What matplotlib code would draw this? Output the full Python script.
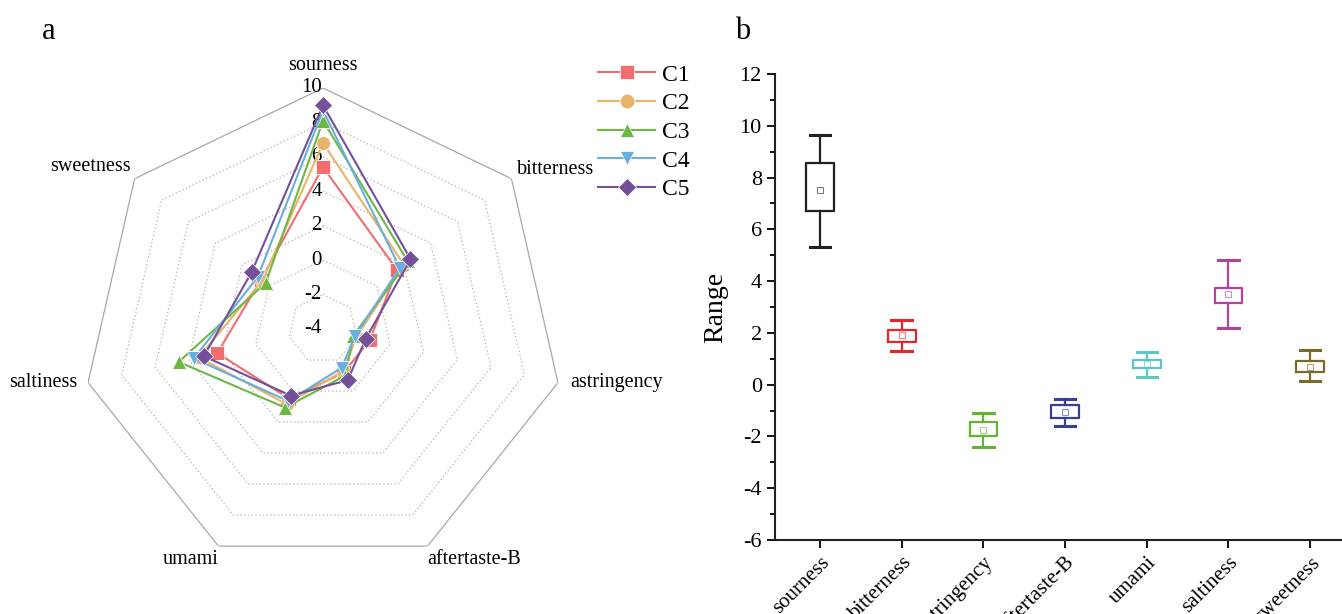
import numpy as np
import matplotlib
matplotlib.use("Agg")
import matplotlib.pyplot as plt

plt.rcParams['font.family'] = ['Liberation Serif', 'DejaVu Serif']
plt.rcParams['axes.unicode_minus'] = False

# taste attributes, clockwise from the top of the radar
tastes = ['sourness', 'bitterness', 'astringency', 'aftertaste-B', 'umami', 'saltiness', 'sweetness']
samples = ['C1', 'C2', 'C3', 'C4', 'C5']

c1 = [5.4, 1.5, -1.2, -1.2, 0.5, 2.3, 0.6]
c2 = [6.8, 2.0, -2.0, -1.3, 0.85, 3.4, 0.5]
c3 = [8.1, 2.3, -2.2, -1.0, 1.07, 4.6, 0.27]
c4 = [8.7, 1.7, -2.1, -1.5, 0.65, 3.7, 0.85]
c5 = [9.0, 2.5, -1.45, -0.7, 0.3, 3.1, 1.3]
series = [c1, c2, c3, c4, c5]

ring_vals = [-2, 0, 2, 4, 6, 8, 10]
tick_vals = [-4, -2, 0, 2, 4, 6, 8, 10]

# box plot stats (panel b)
whisk_lo = [5.3, 1.3, -2.4, -1.6, 0.3, 2.2, 0.15]
q1 = [6.7, 1.65, -2.0, -1.3, 0.65, 3.15, 0.5]
q3 = [8.55, 2.1, -1.45, -0.8, 0.95, 3.75, 0.9]
whisk_hi = [9.65, 2.5, -1.1, -0.55, 1.25, 4.8, 1.35]
means = [7.5, 1.9, -1.75, -1.05, 0.8, 3.5, 0.7]

line_colors = ['#f26d6d', '#e8b46a', '#6db843', '#6aaee0', '#74509a']
markers = ['s', 'o', '^', 'v', 'D']
box_colors = ['#222222', '#e8262a', '#62b530', '#3a3f96', '#5cc6c8', '#b0449a', '#7a6a2a']

fig = plt.figure(figsize=(13.42, 6.14), dpi=100)

# ---------- panel a : radar ----------
ax = fig.add_axes([0.0611, 0.0717, 0.3592, 0.785], projection='polar')
ax.set_theta_zero_location('N')
ax.set_theta_direction(-1)
ax.set_ylim(-4, 10)
ax.grid(False)
ax.spines['polar'].set_visible(False)
ax.set_xticks([])
ax.set_yticks([])
ax.patch.set_alpha(0)

n = len(tastes)
theta = np.linspace(0, 2 * np.pi, n, endpoint=False)
theta_c = np.append(theta, theta[0])

for rv in ring_vals:
    if rv == 10:
        ax.plot(theta_c, [rv] * (n + 1), color='#a8a8a8', lw=0.9, zorder=1)
    else:
        ax.plot(theta_c, [rv] * (n + 1), color='#b0b0b0', lw=0.9, ls=(0, (1, 2)), zorder=1)

for tv in tick_vals:
    ax.annotate(str(tv), (0, tv), xytext=(-1, 0), textcoords='offset points',
                ha='right', va='center', fontsize=15, zorder=2)

for s, vals in enumerate(series):
    ax.plot(theta_c, vals + [vals[0]], color=line_colors[s], lw=1.5, marker=markers[s],
            markersize=10 if markers[s] != 'D' else 9, markeredgecolor='white',
            markeredgewidth=0.5, label=samples[s], zorder=3 + s)

lab_style = [
    ((0, 9), 'center', 'bottom'),
    ((4, 7), 'left', 'center'),
    ((9, 0), 'left', 'center'),
    ((0, -3), 'left', 'top'),
    ((0, -3), 'right', 'top'),
    ((-8, 0), 'right', 'center'),
    ((-3, 9), 'right', 'center'),
]
for k, name in enumerate(tastes):
    off, ha, va = lab_style[k]
    ax.annotate(name, (theta[k], 10), xytext=off, textcoords='offset points',
                ha=ha, va=va, fontsize=14.5, annotation_clip=False)

fig.legend(loc='upper left', bbox_to_anchor=(0.43, 0.93), frameon=False,
           fontsize=17, handlelength=2.4, labelspacing=0.3, handletextpad=0.3,
           markerscale=1.05)

fig.text(0.031, 0.949, 'a', fontsize=22, va='center')

# ---------- panel b : box plot ----------
bx = fig.add_axes([0.5775, 0.1205, 0.4225, 0.759])
stats = []
for i, name in enumerate(tastes):
    stats.append({'whislo': whisk_lo[i], 'q1': q1[i], 'med': q1[i], 'q3': q3[i],
                  'whishi': whisk_hi[i], 'mean': means[i], 'label': name})
pos = np.arange(1, n + 1)
for i in range(n):
    col = box_colors[i]
    bx.bxp([stats[i]], positions=[pos[i]], widths=0.34, showmeans=True, showfliers=False,
           boxprops=dict(color=col, lw=1.6),
           whiskerprops=dict(color=col, lw=1.6),
           capprops=dict(color=col, lw=2.2),
           medianprops=dict(lw=0),
           meanprops=dict(marker='s', markerfacecolor='none', markeredgecolor=col,
                          markersize=5, markeredgewidth=0.8, alpha=0.6),
           capwidths=0.25)

bx.set_xlim(0.449, 7.39)
bx.set_ylim(-6, 12)
bx.set_yticks(np.arange(-6, 13, 2))
bx.set_yticks(np.arange(-5, 12, 2), minor=True)
bx.set_xticks(pos)
bx.set_xticklabels(tastes, rotation=45, ha='right', rotation_mode='anchor', fontsize=15)
bx.tick_params(axis='y', labelsize=16, direction='out', width=1.3, length=6)
bx.tick_params(axis='y', which='minor', direction='out', width=1.3, length=3.5)
bx.tick_params(axis='x', direction='out', width=1.3, length=6)
for sp in ['top', 'right']:
    bx.spines[sp].set_visible(False)
for sp in ['left', 'bottom']:
    bx.spines[sp].set_linewidth(1.5)
    bx.spines[sp].set_color('#222222')
bx.set_ylabel('Range', fontsize=20, labelpad=8)

fig.text(0.548, 0.949, 'b', fontsize=22, va='center')

fig.savefig('out.png', dpi=100)
